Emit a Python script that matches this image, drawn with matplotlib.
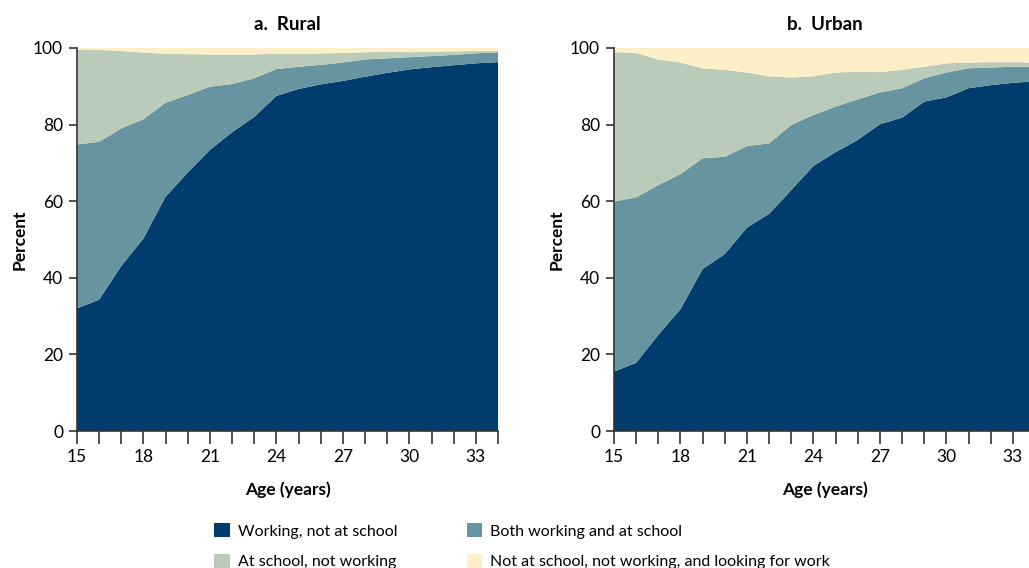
import matplotlib
matplotlib.use("Agg")
import matplotlib.pyplot as plt
from matplotlib.patches import Patch

ages = list(range(15, 35))

rural_working = [32.0, 34.3, 43.1, 50.3, 61.2, 67.5, 73.4, 78.0, 82.0, 87.5, 89.3, 90.5, 91.4, 92.5, 93.5, 94.4, 95.0, 95.5, 96.0, 96.3]
rural_both = [42.8, 41.2, 35.9, 31.1, 24.5, 20.2, 16.5, 12.6, 10.1, 7.0, 5.8, 5.1, 4.8, 4.5, 3.8, 3.2, 2.9, 2.7, 2.6, 2.6]
rural_school = [24.8, 24.0, 20.2, 17.4, 12.8, 10.7, 8.4, 7.7, 6.2, 4.0, 3.3, 3.0, 2.5, 1.9, 1.7, 1.3, 1.1, 0.9, 0.6, 0.3]
rural_looking = [0.4, 0.5, 0.8, 1.2, 1.5, 1.6, 1.7, 1.7, 1.7, 1.5, 1.6, 1.4, 1.3, 1.1, 1.0, 1.1, 1.0, 0.9, 0.8, 0.8]

urban_working = [15.5, 17.8, 25.1, 31.8, 42.3, 46.2, 53.1, 56.7, 62.9, 69.2, 72.8, 76.0, 80.1, 81.8, 86.0, 87.1, 89.5, 90.3, 90.9, 91.3]
urban_both = [44.4, 43.2, 39.1, 35.3, 28.9, 25.4, 21.3, 18.4, 17.0, 13.3, 11.9, 10.6, 8.3, 7.7, 6.1, 6.5, 5.2, 4.6, 4.2, 3.8]
urban_school = [39.0, 37.7, 32.8, 29.1, 23.5, 22.7, 19.2, 17.5, 12.4, 10.1, 8.9, 7.2, 5.3, 4.8, 3.0, 2.4, 1.5, 1.4, 1.2, 1.1]
urban_looking = [1.1, 1.3, 3.0, 3.8, 5.3, 5.7, 6.4, 7.4, 7.7, 7.4, 6.4, 6.2, 6.3, 5.7, 4.9, 4.0, 3.8, 3.7, 3.7, 3.8]

series_labels = ["Working, not at school", "Both working and at school",
                 "At school, not working", "Not at school, not working, and looking for work"]
panel_titles = ["a.  Rural", "b.  Urban"]
x_tick_labels = [15, 18, 21, 24, 27, 30, 33]
y_ticks = [0, 20, 40, 60, 80, 100]

colors = ["#003D6F", "#6694A0", "#BBCBB9", "#FDEFC8"]

plt.rcParams['font.family'] = ['Lato', 'DejaVu Sans']

fig = plt.figure(figsize=(10.29, 5.68), dpi=100)
W, H = 1029, 568
axes_px = [(77, 498), (614, 1035)]
top_px, bot_px = 48, 431

data = [
    (rural_working, rural_both, rural_school, rural_looking),
    (urban_working, urban_both, urban_school, urban_looking),
]

for i, ((l, r), series, title) in enumerate(zip(axes_px, data, panel_titles)):
    ax = fig.add_axes([l / W, 1 - bot_px / H, (r - l) / W, (bot_px - top_px) / H])
    ax.stackplot(ages, *series, colors=colors, linewidth=0)
    ax.set_xlim(15, 34)
    ax.set_ylim(0, 100)
    ax.set_xticks(ages, minor=False)
    ax.set_xticklabels([str(a) if a in x_tick_labels else "" for a in ages])
    ax.set_yticks(y_ticks)
    for s in ["top", "right"]:
        ax.spines[s].set_visible(False)
    for s in ["left", "bottom"]:
        ax.spines[s].set_color("#333333")
        ax.spines[s].set_linewidth(1.2)
    ax.tick_params(axis="x", length=9, width=1.2, color="#333333", labelsize=12.5, pad=4)
    ax.tick_params(axis="y", length=6, width=1.2, color="#333333", labelsize=12.5, pad=4)
    ax.set_title(title, fontsize=13.5, fontweight="bold", pad=13)
    ax.set_xlabel("Age (years)", fontsize=12.5, fontweight="bold", labelpad=12)
    ax.set_ylabel("Percent", fontsize=12.5, fontweight="bold", labelpad=4)

handles = [Patch(facecolor=colors[0]), Patch(facecolor=colors[2]),
           Patch(facecolor=colors[1]), Patch(facecolor=colors[3])]
labels = [series_labels[0], series_labels[2], series_labels[1], series_labels[3]]
fig.legend(handles, labels, ncol=2, loc="upper left",
           bbox_to_anchor=(200 / W, 1 - 509 / H), frameon=False,
           handlelength=0.95, handleheight=0.95, handletextpad=0.55,
           columnspacing=4.3, labelspacing=0.95, fontsize=11.5)

fig.savefig("out.png", dpi=100)
